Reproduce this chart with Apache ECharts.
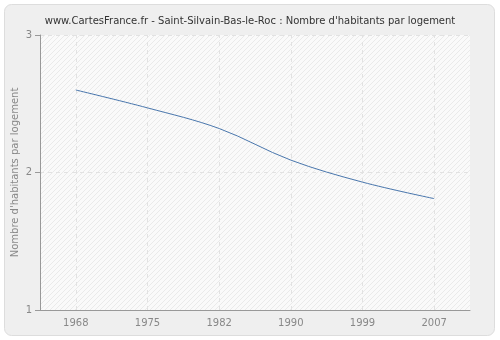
<!DOCTYPE html>
<html>
<head>
<meta charset="utf-8">
<script src="https://cdn.jsdelivr.net/npm/echarts@6/dist/echarts.min.js"></script>
<style>
  html, body { margin: 0; padding: 0; background: #ffffff; }
  #chart { width: 500px; height: 340px; }
</style>
</head>
<body>
<div id="chart"></div>
<script>
// data
const years = ['1968', '1975', '1982', '1990', '1999', '2007'];
const perHousing = [2.60, 2.47, 2.32, 2.09, 1.93, 1.81];
const yTicks = [1, 2, 3];

// light diagonal hatch for the plot area
function hatch() {
  const c = document.createElement('canvas');
  c.width = 5; c.height = 5;
  const g = c.getContext('2d');
  g.fillStyle = '#fafafa';
  g.fillRect(0, 0, 5, 5);
  g.strokeStyle = '#eaeaea';
  g.lineWidth = 1;
  g.beginPath();
  g.moveTo(0, 5); g.lineTo(5, 0);
  g.moveTo(-1, 1); g.lineTo(1, -1);
  g.moveTo(4, 6); g.lineTo(6, 4);
  g.stroke();
  return { image: c, repeat: 'repeat' };
}

const chart = echarts.init(document.getElementById('chart'));
chart.setOption({
  animation: false,
  backgroundColor: '#ffffff',
  graphic: [{
    type: 'rect',
    z: -10,
    shape: { x: 4.5, y: 4.5, width: 490, height: 331, r: 7 },
    style: { fill: '#efefef', stroke: '#dddddd', lineWidth: 1 }
  }],
  title: {
    text: "www.CartesFrance.fr - Saint-Silvain-Bas-le-Roc : Nombre d'habitants par logement",
    left: 'center',
    top: 11,
    textStyle: { fontFamily: 'DejaVu Sans', fontSize: 10, fontWeight: 'normal', color: '#333333' }
  },
  grid: {
    left: 40, right: 30, top: 35, bottom: 30,
    outerBoundsMode: 'none',
    containLabel: false,
    show: true,
    borderWidth: 0,
    backgroundColor: hatch()
  },
  xAxis: {
    type: 'category',
    data: years,
    boundaryGap: true,
    axisLine: { lineStyle: { color: '#999999' } },
    axisTick: { alignWithLabel: true, length: 5, lineStyle: { color: '#999999' } },
    axisLabel: { color: '#888888', fontFamily: 'DejaVu Sans', fontSize: 10, margin: 8 },
    splitLine: { show: false }
  },
  yAxis: {
    type: 'value',
    min: yTicks[0],
    max: yTicks[yTicks.length - 1],
    interval: 1,
    name: "Nombre d'habitants par logement",
    nameLocation: 'middle',
    nameGap: 20,
    nameMoveOverlap: false,
    nameTextStyle: { color: '#888888', fontFamily: 'DejaVu Sans', fontSize: 10 },
    axisLine: { show: true, lineStyle: { color: '#999999' } },
    axisTick: { show: true, length: 5, lineStyle: { color: '#999999' } },
    axisLabel: { color: '#888888', fontFamily: 'DejaVu Sans', fontSize: 10, margin: 8 },
    splitLine: { show: true, lineStyle: { color: '#e2e2e2', type: [4, 4] } }
  },
  series: [{
    type: 'line',
    data: perHousing,
    smooth: 0.35,
    symbol: 'none',
    z: 3,
    lineStyle: { color: '#4a77ad', width: 1 },
    // vertical dashed grid lines sit on the year ticks
    markLine: {
      silent: true,
      symbol: 'none',
      label: { show: false },
      z: 1,
      lineStyle: { color: '#e2e2e2', type: [4, 4], width: 1 },
      data: years.map(y => ({ xAxis: y }))
    }
  }]
});
</script>
</body>
</html>
